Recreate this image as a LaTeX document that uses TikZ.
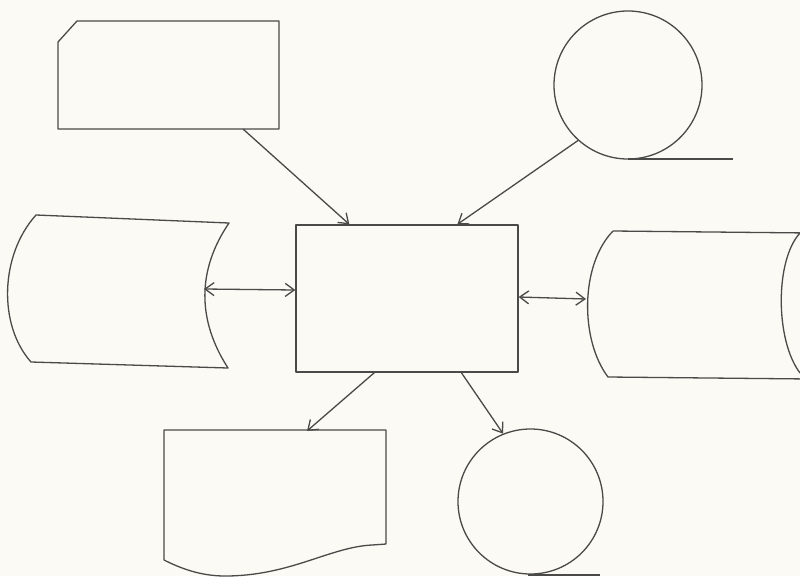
\documentclass[tikz,border=0pt]{standalone}
\usetikzlibrary{arrows.meta}
\definecolor{paper}{HTML}{FBFAF4}
\definecolor{pencil}{HTML}{4A4A48}
\begin{document}
\begin{tikzpicture}[x=1pt,y=-1pt,
  ln/.style={draw=pencil,line width=1.3pt,line join=round},
  conn/.style={ln,-{Straight Barb[length=9pt,width=13pt]}},
  dconn/.style={ln,{Straight Barb[length=9pt,width=13pt]}-{Straight Barb[length=9pt,width=13pt]}},
  circ/.style={ln,circle,inner sep=0pt},
  proc/.style={ln,rectangle,inner sep=0pt,minimum width=222pt,minimum height=147pt}]
\fill[paper] (0,0) rectangle (800,576);
\useasboundingbox (0,0) rectangle (800,576);

% punched card
\draw[ln] (77,21) -- (279,21) -- (279,129) -- (58,129) -- (58,42) -- cycle;
\coordinate (cardOut) at (243,129);

% magnetic tape (top)
\node[circ,minimum size=148pt] (tapeA) at (628,85) {};
\coordinate (tapeAfoot) at (628,159);
\coordinate (tapeAend) at (733,159);
\draw[ln] (tapeAfoot) -- (tapeAend);

% stored data (left)
\draw[ln] (36,215) -- (229,223) .. controls (197,270) and (197,320) .. (228,368)
  -- (31,362) .. controls (-2,325) and (0,255) .. cycle;
\coordinate (leftIO) at (204,289);

% direct access storage (right)
\draw[ln] (613,231) -- (810,233);
\draw[ln] (613,231) .. controls (580,265) and (580,340) .. (608,377) -- (810,379);
\draw[ln] (800,233) .. controls (775,260) and (775,340) .. (800,373);
\coordinate (rightIO) at (586,299);

% process
\node[proc] (proc) at (407,298.5) {};

% document
\draw[ln] (164,430) -- (386,430) -- (386,544) -- (372,545)
  .. controls (330,547) and (290,576) .. (225,576)
  .. controls (200,576) and (180,568) .. (164,560) -- cycle;
\coordinate (docIn) at (307,431);

% magnetic tape (bottom)
\node[circ,minimum size=145pt] (tapeB) at (530.5,501.5) {};
\coordinate (tapeBfoot) at (528,575);
\coordinate (tapeBend) at (600,575);
\draw[ln] (tapeBfoot) -- (tapeBend);

% connectors
\draw[conn] (cardOut) -- ([xshift=54pt]proc.north west);
\draw[conn] (tapeA.228) -- ([xshift=162pt]proc.north west);
\draw[dconn] (leftIO) -- ([yshift=8.5pt]proc.west);
\draw[dconn] ([yshift=1.5pt]proc.east) -- (rightIO);
\draw[conn] ([xshift=79pt]proc.south west) -- (docIn);
\draw[conn] ([xshift=166pt]proc.south west) -- (tapeB.112);
\end{tikzpicture}
\end{document}
